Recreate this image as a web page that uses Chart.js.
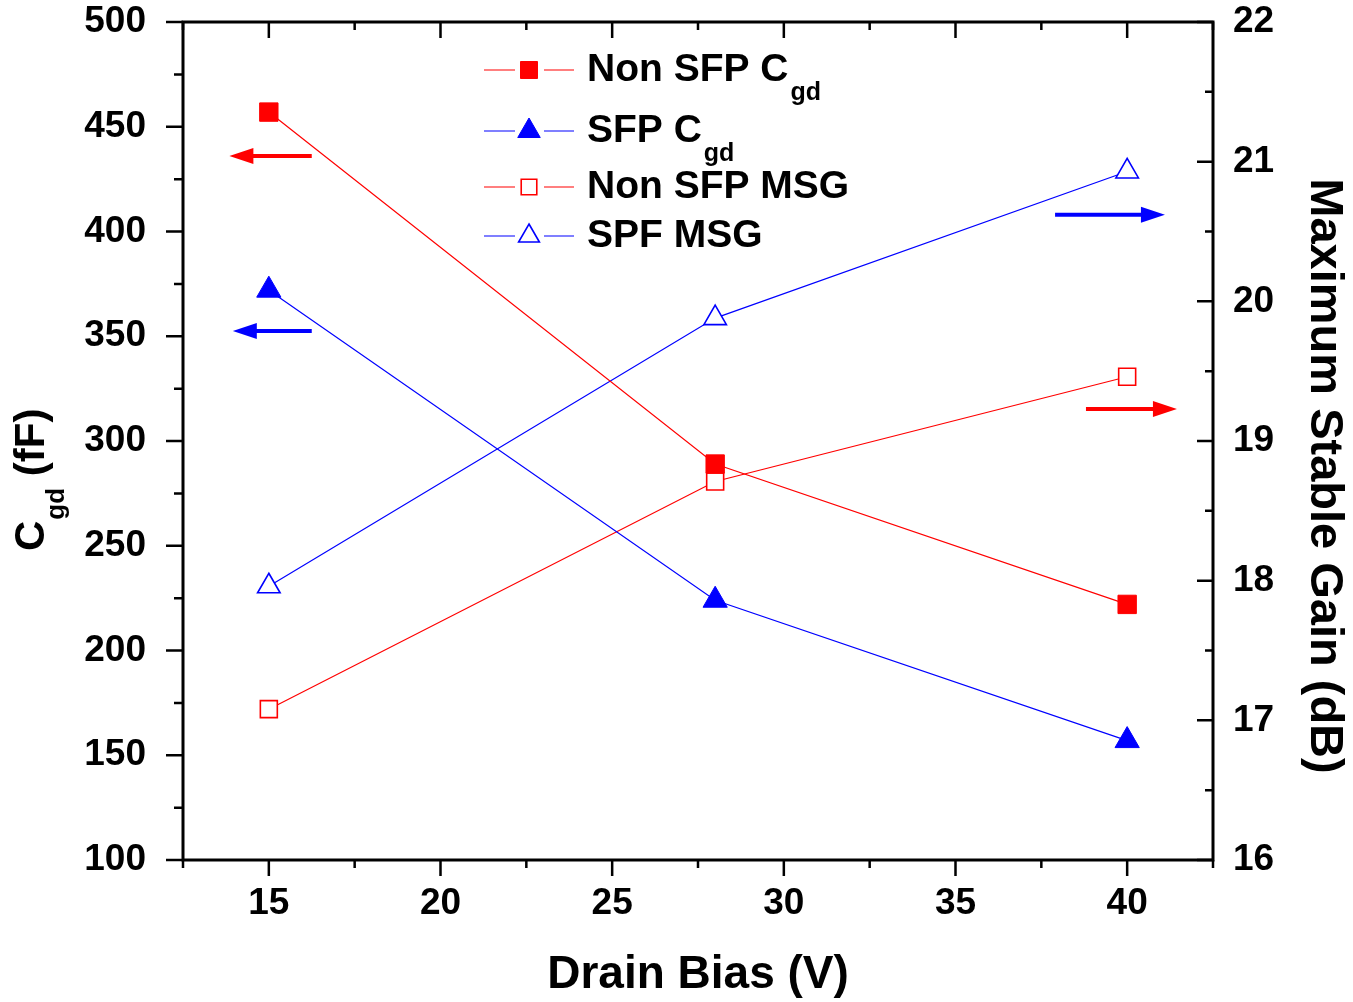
<!DOCTYPE html>
<html>
<head>
<meta charset="utf-8">
<script src="https://cdn.jsdelivr.net/npm/chart.js@4.4.1/dist/chart.umd.min.js"></script>
<style>
  html, body { margin: 0; padding: 0; background: #fff; }
  #wrap { width: 1353px; height: 1002px; }
</style>
</head>
<body>
<div id="wrap"><canvas id="chart" width="1353" height="1002"></canvas></div>
<script>
// Drain bias (V)
const drainBias = [15, 28, 40];
// Cgd in fF (left axis)
const nonSfpCgd = [457, 289, 222];
const sfpCgd = [372, 224, 157];
// Maximum stable gain in dB (right axis)
const nonSfpMsg = [17.08, 18.71, 19.46];
const sfpMsg = [17.96, 19.88, 20.93];

// ticks
const xMajorTicks = [15, 20, 25, 30, 35, 40];
const xMinorTicks = [12.5, 17.5, 22.5, 27.5, 32.5, 37.5, 42.5];
const yMajorTicks = [100, 150, 200, 250, 300, 350, 400, 450, 500];
const yMinorTicks = [125, 175, 225, 275, 325, 375, 425, 475];
const y1MajorTicks = [16, 17, 18, 19, 20, 21, 22];
const y1MinorTicks = [16.5, 17.5, 18.5, 19.5, 20.5, 21.5];

// legend text: [main, subscript]
const legendLabels = [['Non SFP C', 'gd'], ['SFP C', 'gd'], ['Non SFP MSG', ''], ['SPF MSG', '']];

const xTitle = 'Drain Bias (V)';
const y1Title = 'Maximum Stable Gain (dB)';

const RED = '#ff0000';
const BLUE = '#0000ff';
const FONT = '"Liberation Sans", Arial, Helvetica, sans-serif';

// arrows pointing at the axis each curve is read on (data coords)
const arrows = [
  { scale: 'y', value: 436, from: 16.25, to: 13.85, color: RED },
  { scale: 'y', value: 352.5, from: 16.25, to: 13.95, color: BLUE },
  { scale: 'y1', value: 20.62, from: 37.9, to: 41.1, color: BLUE },
  { scale: 'y1', value: 19.23, from: 38.8, to: 41.45, color: RED }
];

function pts(ys) {
  return drainBias.map((x, i) => ({ x: x, y: ys[i] }));
}

// frame + tick marks
const frame = {
  id: 'frame',
  afterDraw(chart) {
    const { ctx, chartArea: a, scales } = chart;
    const sx = scales.x, sy = scales.y, sy1 = scales.y1;
    ctx.save();
    ctx.strokeStyle = '#000';
    ctx.lineWidth = 2.5;
    ctx.beginPath();
    const seg = (x0, y0, x1, y1) => { ctx.moveTo(x0, y0); ctx.lineTo(x1, y1); };
    xMajorTicks.forEach(v => {
      const p = sx.getPixelForValue(v);
      seg(p, a.bottom, p, a.bottom + 16);
      seg(p, a.top, p, a.top + 16);
    });
    xMinorTicks.forEach(v => {
      const p = sx.getPixelForValue(v);
      seg(p, a.bottom, p, a.bottom + 8);
      seg(p, a.top, p, a.top + 8);
    });
    yMajorTicks.forEach(v => {
      const p = sy.getPixelForValue(v);
      seg(a.left, p, a.left - 17, p);
    });
    yMinorTicks.forEach(v => {
      const p = sy.getPixelForValue(v);
      seg(a.left, p, a.left - 9, p);
    });
    y1MajorTicks.forEach(v => {
      const p = sy1.getPixelForValue(v);
      seg(a.right, p, a.right - 16, p);
    });
    y1MinorTicks.forEach(v => {
      const p = sy1.getPixelForValue(v);
      seg(a.right, p, a.right - 8, p);
    });
    ctx.stroke();
    ctx.lineWidth = 3;
    ctx.strokeRect(a.left, a.top, a.right - a.left, a.bottom - a.top);
    ctx.restore();
  }
};

const arrowPlugin = {
  id: 'arrowPlugin',
  afterDatasetsDraw(chart) {
    const { ctx, scales } = chart;
    ctx.save();
    arrows.forEach(ar => {
      const y = scales[ar.scale].getPixelForValue(ar.value);
      const x0 = scales.x.getPixelForValue(ar.from);
      const x1 = scales.x.getPixelForValue(ar.to);
      const dir = x1 > x0 ? 1 : -1;
      ctx.strokeStyle = ar.color;
      ctx.fillStyle = ar.color;
      ctx.lineWidth = 4;
      ctx.beginPath();
      ctx.moveTo(x0, y);
      ctx.lineTo(x1 - dir * 18, y);
      ctx.stroke();
      ctx.beginPath();
      ctx.moveTo(x1, y);
      ctx.lineTo(x1 - dir * 24, y - 8);
      ctx.lineTo(x1 - dir * 24, y + 8);
      ctx.closePath();
      ctx.fill();
    });
    ctx.restore();
  }
};

const legendPlugin = {
  id: 'customLegend',
  afterDatasetsDraw(chart) {
    const { ctx } = chart;
    const rows = [70, 131, 187, 236];
    ctx.save();
    chart.data.datasets.forEach((ds, i) => {
      const y = rows[i];
      ctx.strokeStyle = ds.borderColor;
      ctx.lineWidth = 1.2;
      ctx.beginPath();
      ctx.moveTo(484, y); ctx.lineTo(515, y);
      ctx.moveTo(544, y); ctx.lineTo(574, y);
      ctx.stroke();
      ctx.fillStyle = ds.pointBackgroundColor;
      ctx.strokeStyle = ds.pointBorderColor;
      ctx.lineWidth = ds.pointBorderWidth;
      Chart.helpers.drawPoint(ctx, {
        pointStyle: ds.pointStyle,
        radius: ds.pointRadius - 1,
        borderWidth: ds.pointBorderWidth,
        rotation: 0
      }, 529, y);
      ctx.fillStyle = '#000';
      ctx.textAlign = 'left';
      ctx.textBaseline = 'middle';
      ctx.font = 'bold 39px ' + FONT;
      const [main, sub] = legendLabels[i];
      ctx.fillText(main, 587, y);
      if (sub) {
        const w = ctx.measureText(main).width;
        ctx.font = 'bold 25px ' + FONT;
        ctx.fillText(sub, 587 + w + 2, y + 23);
      }
    });
    ctx.restore();
  }
};

const titles = {
  id: 'titles',
  afterDraw(chart) {
    const { ctx, chartArea: a } = chart;
    ctx.save();
    ctx.fillStyle = '#000';
    ctx.textAlign = 'center';
    ctx.textBaseline = 'middle';
    ctx.font = 'bold 46px ' + FONT;
    ctx.fillText(xTitle, (a.left + a.right) / 2, 975);

    ctx.save();
    ctx.translate(1324, 476);
    ctx.rotate(Math.PI / 2);
    ctx.font = 'bold 47px ' + FONT;
    ctx.fillText(y1Title, 0, 0);
    ctx.restore();

    // left title C_gd (fF)
    ctx.save();
    ctx.translate(44, 551);
    ctx.rotate(-Math.PI / 2);
    ctx.textAlign = 'left';
    ctx.textBaseline = 'alphabetic';
    ctx.font = 'bold 42px ' + FONT;
    ctx.fillText('C', 0, 0);
    let w = ctx.measureText('C').width + 1;
    ctx.font = 'bold 26px ' + FONT;
    ctx.fillText('gd', w, 20);
    w += ctx.measureText('gd').width;
    ctx.font = 'bold 42px ' + FONT;
    ctx.fillText(' (fF)', w, 0);
    ctx.restore();
    ctx.restore();
  }
};

const tickFont = { family: FONT, size: 37, weight: 'bold' };

function fitVertical(width) {
  return s => { s.width = width; s.paddingTop = 0; s.paddingBottom = 0; };
}

new Chart(document.getElementById('chart'), {
  type: 'line',
  data: {
    datasets: [
      {
        label: 'Non SFP Cgd', data: pts(nonSfpCgd), yAxisID: 'y',
        borderColor: RED, borderWidth: 1.2, pointStyle: 'rect', pointRadius: 13,
        pointBackgroundColor: RED, pointBorderColor: RED, pointBorderWidth: 1
      },
      {
        label: 'SFP Cgd', data: pts(sfpCgd), yAxisID: 'y',
        borderColor: BLUE, borderWidth: 1.2, pointStyle: 'triangle', pointRadius: 14,
        pointBackgroundColor: BLUE, pointBorderColor: BLUE, pointBorderWidth: 1
      },
      {
        label: 'Non SFP MSG', data: pts(nonSfpMsg), yAxisID: 'y1',
        borderColor: RED, borderWidth: 1.2, pointStyle: 'rect', pointRadius: 12,
        pointBackgroundColor: '#fff', pointBorderColor: RED, pointBorderWidth: 1.6
      },
      {
        label: 'SPF MSG', data: pts(sfpMsg), yAxisID: 'y1',
        borderColor: BLUE, borderWidth: 1.2, pointStyle: 'triangle', pointRadius: 13,
        pointBackgroundColor: '#fff', pointBorderColor: BLUE, pointBorderWidth: 1.6
      }
    ]
  },
  options: {
    responsive: false,
    animation: false,
    layout: { padding: { top: 22, left: 0, right: 0, bottom: 0 } },
    plugins: { legend: { display: false }, tooltip: { enabled: false } },
    scales: {
      x: {
        type: 'linear', position: 'bottom', min: 12.5, max: 42.5,
        afterBuildTicks: s => { s.ticks = xMajorTicks.map(v => ({ value: v })); },
        afterFit: s => { s.height = 142; s.paddingLeft = 0; s.paddingRight = 0; },
        grid: { display: false, drawTicks: false },
        border: { display: false },
        ticks: { color: '#000', font: tickFont, padding: 22, autoSkip: false, maxRotation: 0 }
      },
      y: {
        type: 'linear', position: 'left', min: 100, max: 500,
        afterBuildTicks: s => { s.ticks = yMajorTicks.map(v => ({ value: v })); },
        afterFit: fitVertical(183),
        grid: { display: false, drawTicks: false },
        border: { display: false },
        ticks: { color: '#000', font: tickFont, padding: 37, autoSkip: false }
      },
      y1: {
        type: 'linear', position: 'right', min: 16, max: 22,
        afterBuildTicks: s => { s.ticks = y1MajorTicks.map(v => ({ value: v })); },
        afterFit: fitVertical(140),
        grid: { display: false, drawTicks: false },
        border: { display: false },
        ticks: { color: '#000', font: tickFont, padding: 20, autoSkip: false }
      }
    }
  },
  plugins: [frame, arrowPlugin, legendPlugin, titles]
});
</script>
</body>
</html>
